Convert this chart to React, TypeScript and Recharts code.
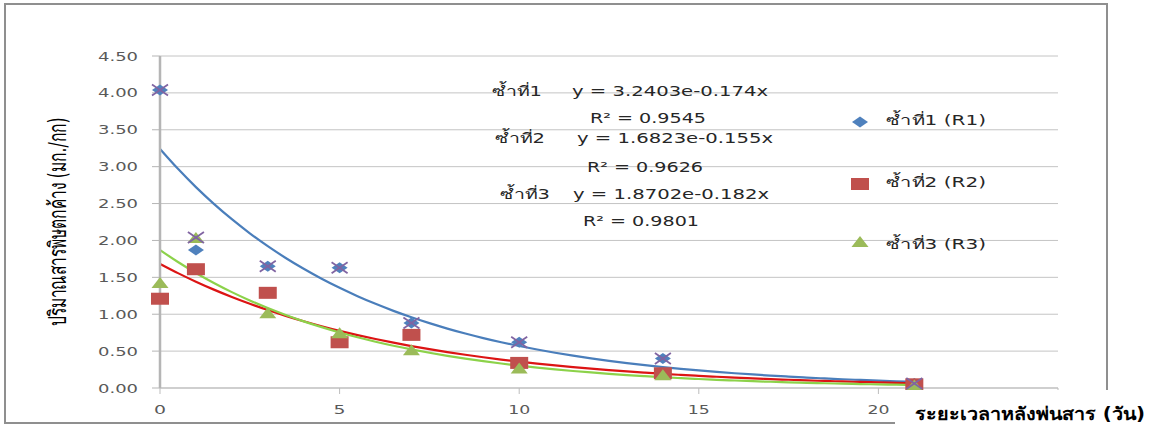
import React from 'react';
import { ComposedChart, Scatter, Line, XAxis, YAxis, CartesianGrid, Legend } from 'recharts';

// ---- data ----
const days = [0, 1, 3, 5, 7, 10, 14, 21];
const r1Values = [4.04, 1.87, 1.65, 1.63, 0.88, 0.62, 0.4, 0.06];
const r2Values = [1.21, 1.61, 1.29, 0.62, 0.72, 0.34, 0.2, 0.05];
const r3Values = [1.43, 2.04, 1.02, 0.75, 0.52, 0.27, 0.18, 0.04];
const maxValues = [4.04, 2.04, 1.65, 1.63, 0.88, 0.62, 0.4, 0.06];

// exponential trendline coefficients shown on the chart: y = a * e^(b x)
const trendA = [3.2403, 1.6823, 1.8702];
const trendB = [-0.174, -0.155, -0.182];
const trendR2 = ['0.9545', '0.9626', '0.9801'];
const trendEq = ['y = 3.2403e-0.174x', 'y = 1.6823e-0.155x', 'y = 1.8702e-0.182x'];
const repNames = ['ซ้ำที่1', 'ซ้ำที่2', 'ซ้ำที่3'];
const legendNames = ['ซ้ำที่1 (R1)', 'ซ้ำที่2 (R2)', 'ซ้ำที่3 (R3)'];

const yTicks = [0, 0.5, 1, 1.5, 2, 2.5, 3, 3.5, 4, 4.5];
const xTicks = [0, 5, 10, 15, 20, 25];

const yTitle = 'ปริมาณสารพิษตกค้าง (มก./กก)';
const xTitle = 'ระยะเวลาหลังพ่นสาร (วัน)';

const toPoints = (vals: number[]) => days.map((d, i) => ({ x: d, y: vals[i] }));
const r1Data = toPoints(r1Values);
const r2Data = toPoints(r2Values);
const r3Data = toPoints(r3Values);
const maxData = toPoints(maxValues);

const trendX: number[] = [];
for (let i = 0; i <= 42; i++) trendX.push(i / 2);
const trendData = (k: number) => trendX.map((x) => ({ x, y: trendA[k] * Math.exp(trendB[k] * x) }));
const t1 = trendData(0);
const t2 = trendData(1);
const t3 = trendData(2);

const C_BLUE = '#4f81bd';
const C_RED = '#c0504d';
const C_GREEN = '#9bbb59';
const C_PURPLE = '#8064a2';
const FONT = 'DejaVu Sans, Verdana, sans-serif';

const Diamond = (p: any) => {
  const { cx, cy } = p;
  return <polygon points={`${cx - 8},${cy} ${cx},${cy - 5.5} ${cx + 8},${cy} ${cx},${cy + 5.5}`} fill={C_BLUE} />;
};
const Square = (p: any) => {
  const { cx, cy } = p;
  return <rect x={cx - 9} y={cy - 6} width={18} height={12} fill={C_RED} />;
};
const Triangle = (p: any) => {
  const { cx, cy } = p;
  return <polygon points={`${cx - 8.5},${cy + 5.5} ${cx},${cy - 5.5} ${cx + 8.5},${cy + 5.5}`} fill={C_GREEN} />;
};
const Cross = (p: any) => {
  const { cx, cy } = p;
  return (
    <g stroke={C_PURPLE} strokeWidth={1.8}>
      <line x1={cx - 8} y1={cy - 5.5} x2={cx + 8} y2={cy + 5.5} />
      <line x1={cx - 8} y1={cy + 5.5} x2={cx + 8} y2={cy - 5.5} />
    </g>
  );
};

const YTick = (props: any) => {
  const { x, y, payload } = props;
  return (
    <text x={x - 40} y={y} dominantBaseline="central" fontSize={13} fill="#595959" fontFamily={FONT}
      textLength={40} lengthAdjust="spacingAndGlyphs">
      {Number(payload.value).toFixed(2)}
    </text>
  );
};

const XTick = (props: any) => {
  const { x, y, payload } = props;
  if (payload.value === 25) return <g />;
  const s = String(payload.value);
  const w = s.length === 1 ? 12 : 22;
  return (
    <text x={x - w / 2} y={y + 7} dominantBaseline="central" fontSize={13} fill="#595959" fontFamily={FONT}
      textLength={w} lengthAdjust="spacingAndGlyphs">
      {s}
    </text>
  );
};

const ST = ({ x, y, w, children, size = 14, fill = '#262626', weight = 'normal' }: any) => (
  <text x={x} y={y} dominantBaseline="central" fontSize={size} fill={fill} fontFamily={FONT} fontWeight={weight}
    textLength={w} lengthAdjust="spacingAndGlyphs">
    {children}
  </text>
);

const LegendBox = () => {
  const markers = [
    <polygon key="d" points="2,14 10,8.5 18,14 10,19.5" fill={C_BLUE} />,
    <rect key="s" x={1} y={70} width={18} height={12} fill={C_RED} />,
    <polygon key="t" points="1.5,139 10,128 18.5,139" fill={C_GREEN} />,
  ];
  const ty = [12, 74, 136];
  return (
    <svg width={150} height={150} style={{ display: 'block', overflow: 'visible' }}>
      {markers}
      {legendNames.map((n, i) => (
        <ST key={n} x={36} y={ty[i]} w={100} size={14}>{n}</ST>
      ))}
    </svg>
  );
};

export default function App() {
  const annY = [91, 138, 194];
  const annNameX = [492, 495, 500];
  const annEqX = [572, 577, 573];
  const r2Y = [118, 167, 221];
  const r2X = [590, 587, 583];
  return (
    <div style={{ position: 'absolute', left: 0, top: 0, width: 1150, height: 428, background: '#fff' }}>
      <ComposedChart width={1150} height={428} margin={{ top: 56, right: 92, bottom: 10, left: 60 }}>
        <CartesianGrid vertical={false} stroke="#c4c4c4" strokeWidth={1} />
        <XAxis type="number" dataKey="x" domain={[0, 25]} ticks={xTicks} height={30}
          axisLine={{ stroke: '#bdbdbd', strokeWidth: 1 }} tickLine={{ stroke: '#bdbdbd' }}
          tickSize={6} tickMargin={8} tick={<XTick />} interval={0} />
        <YAxis type="number" domain={[0, 4.5]} ticks={yTicks} width={100}
          axisLine={{ stroke: '#b5b5b5', strokeWidth: 2.5 }} tickLine={{ stroke: '#b5b5b5' }}
          tickSize={8} tickMargin={14} tick={<YTick />} interval={0} />
        <Legend layout="vertical" align="center" verticalAlign="middle"
          wrapperStyle={{ left: 850, top: 108, width: 160, height: 150 }} content={<LegendBox />} />
        <Scatter name="R1" data={r1Data} dataKey="y" shape={Diamond} isAnimationActive={false} legendType="none" />
        <Scatter name="R2" data={r2Data} dataKey="y" shape={Square} isAnimationActive={false} legendType="none" />
        <Scatter name="R3" data={r3Data} dataKey="y" shape={Triangle} isAnimationActive={false} legendType="none" />
        <Scatter name="max" data={maxData} dataKey="y" shape={Cross} isAnimationActive={false} legendType="none" />
        <Line data={t1} dataKey="y" type="monotone" stroke="#4a7ebb" strokeWidth={2.2} dot={false} isAnimationActive={false} legendType="none" />
        <Line data={t2} dataKey="y" type="monotone" stroke="#dc1414" strokeWidth={2.2} dot={false} isAnimationActive={false} legendType="none" />
        <Line data={t3} dataKey="y" type="monotone" stroke="#8cd24a" strokeWidth={2.2} dot={false} isAnimationActive={false} legendType="none" />
      </ComposedChart>
      <svg width={1150} height={428} style={{ position: 'absolute', left: 0, top: 0, pointerEvents: 'none' }}>
        <rect x={5} y={4} width={1102} height={419} fill="none" stroke="#8f8f8f" strokeWidth={2} />
        {repNames.map((n, i) => (
          <g key={n}>
            <ST x={annNameX[i]} y={annY[i]} w={50}>{n}</ST>
            <ST x={annEqX[i]} y={annY[i]} w={196}>{trendEq[i]}</ST>
            <ST x={r2X[i]} y={r2Y[i]} w={116}>{`R² = ${trendR2[i]}`}</ST>
          </g>
        ))}
        <text transform="translate(57,222) scale(1.35,1) rotate(-90)" textAnchor="middle" dominantBaseline="central"
          fontSize={18} fill="#000" fontFamily={FONT} textLength={209} lengthAdjust="spacingAndGlyphs">
          {yTitle}
        </text>
        <rect x={895} y={390} width={255} height={38} fill="#fff" />
        <ST x={915} y={413} w={230} size={18} fill="#000" weight="bold">{xTitle}</ST>
      </svg>
    </div>
  );
}
